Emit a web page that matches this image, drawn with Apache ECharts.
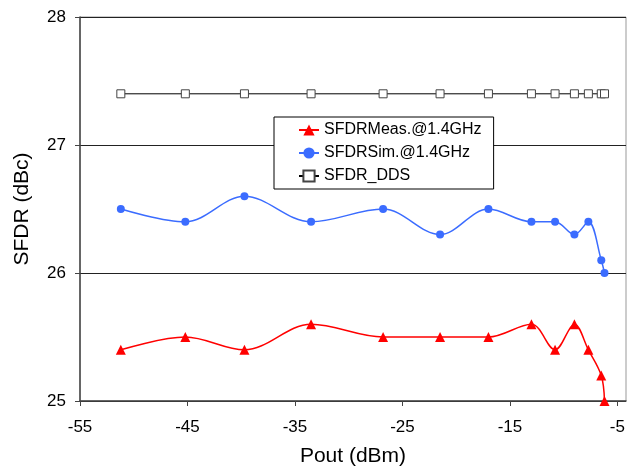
<!DOCTYPE html>
<html>
<head>
<meta charset="utf-8">
<script src="https://cdn.jsdelivr.net/npm/echarts@6/dist/echarts.min.js"></script>
<style>html,body{margin:0;padding:0;background:#fff;}#c{width:635px;height:469px;}</style>
</head>
<body>
<div id="c"></div>
<script>
const poutX = [-51.2, -45.2, -39.7, -33.5, -26.8, -21.5, -17.0, -13.0, -10.8, -9.0, -7.7, -6.5, -6.2];
const sfdrMeas = [25.4, 25.5, 25.4, 25.6, 25.5, 25.5, 25.5, 25.6, 25.4, 25.6, 25.4, 25.2, 25.0];
const sfdrSim = [26.5, 26.4, 26.6, 26.4, 26.5, 26.3, 26.5, 26.4, 26.4, 26.3, 26.4, 26.1, 26.0];
const sfdrDDS = [27.4, 27.4, 27.4, 27.4, 27.4, 27.4, 27.4, 27.4, 27.4, 27.4, 27.4, 27.4, 27.4];
const seriesNames = ['SFDRMeas.@1.4GHz', 'SFDRSim.@1.4GHz', 'SFDR_DDS'];

const pair = (ys) => poutX.map((x, i) => [x, ys[i]]);
const FONT = '"Liberation Sans", Arial, sans-serif';

const chart = echarts.init(document.getElementById('c'), null, {renderer: 'canvas'});
chart.setOption({
  animation: false,
  backgroundColor: '#fff',
  textStyle: {fontFamily: FONT},
  grid: {left: 80, right: 9, top: 17, bottom: 68, containLabel: false, outerBoundsMode: 'none',
         show: true, borderColor: '#999', borderWidth: 1, backgroundColor: 'transparent'},
  legend: {
    orient: 'vertical', left: 274, top: 117,
    backgroundColor: '#fff', borderColor: '#000', borderWidth: 1,
    padding: [5, 12, 5, 24], itemGap: 7, itemWidth: 20, itemHeight: 14,
    textStyle: {fontFamily: FONT, fontSize: 16, color: '#000'},
    data: seriesNames
  },
  xAxis: {
    type: 'value', min: -55, max: -4.2, interval: 10,
    name: 'Pout (dBm)', nameLocation: 'middle', nameGap: 45,
    nameTextStyle: {fontFamily: FONT, fontSize: 21, color: '#000'},
    axisLine: {onZero: false, lineStyle: {color: '#444', width: 1.5}},
    axisTick: {show: true, length: 5, lineStyle: {color: '#444'}},
    axisLabel: {fontFamily: FONT, fontSize: 17, color: '#000', margin: 18, showMaxLabel: false},
    splitLine: {show: false}
  },
  yAxis: {
    type: 'value', min: 25, max: 28, interval: 1,
    name: 'SFDR (dBc)', nameLocation: 'middle', nameGap: 47,
    nameTextStyle: {fontFamily: FONT, fontSize: 21, color: '#000'},
    axisLine: {lineStyle: {color: '#444', width: 1.5}},
    axisTick: {show: true, length: 5, lineStyle: {color: '#444'}},
    axisLabel: {fontFamily: FONT, fontSize: 17, color: '#000', margin: 14, padding: [4, 0, 0, 0]},
    splitLine: {show: true, lineStyle: {color: '#222', width: 1}}
  },
  series: [
    {
      name: seriesNames[0], type: 'line', data: pair(sfdrMeas), smooth: 0.35,
      symbol: 'triangle', symbolSize: 10,
      lineStyle: {color: '#ff0000', width: 1.5}, itemStyle: {color: '#ff0000'}, z: 4
    },
    {
      name: seriesNames[1], type: 'line', data: pair(sfdrSim), smooth: 0.35,
      symbol: 'circle', symbolSize: 8,
      lineStyle: {color: '#3b6cff', width: 1.5}, itemStyle: {color: '#3b6cff'}, z: 3
    },
    {
      name: seriesNames[2], type: 'line', data: pair(sfdrDDS),
      symbol: 'rect', symbolSize: 8,
      lineStyle: {color: '#000', width: 1}, itemStyle: {color: '#fff', borderColor: '#444', borderWidth: 1}, z: 2
    }
  ]
});
</script>
</body>
</html>
